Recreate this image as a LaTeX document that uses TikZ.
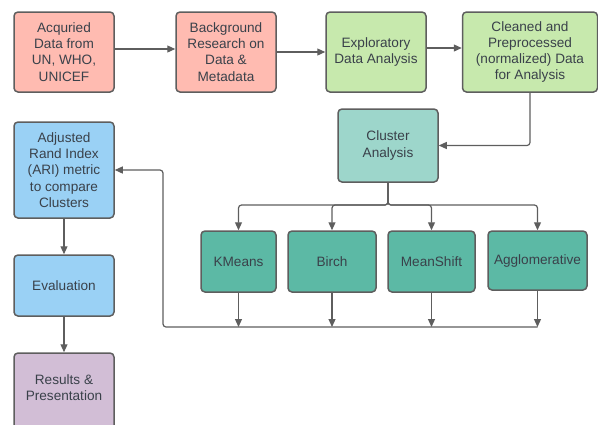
\documentclass[tikz,border=0pt]{standalone}
\usepackage{fontspec}
\setmainfont{Liberation Sans}
\usetikzlibrary{arrows.meta}
\definecolor{salmon}{HTML}{FFBBB1}
\definecolor{lgreen}{HTML}{C7E9AD}
\definecolor{lteal}{HTML}{9DD6CB}
\definecolor{dteal}{HTML}{5CB9A5}
\definecolor{lblue}{HTML}{9AD1F5}
\definecolor{lpurple}{HTML}{D2BED6}
\definecolor{edge}{HTML}{5E5E5E}
\definecolor{txt}{HTML}{3A414A}
\tikzset{
  box/.style={draw=edge, line width=1.5pt, rounded corners=4pt, align=center,
    text=txt, font=\fontsize{13.6}{16.2}\selectfont, inner sep=0pt},
  arr/.style={draw=edge, line width=1.2pt, -{Triangle[length=8pt,width=7pt]}},
}
\begin{document}
\begin{tikzpicture}[x=1pt,y=-1pt]
\useasboundingbox (0,0) rectangle (598,424);
\node[box, fill=salmon, minimum width=100pt, minimum height=80pt] (a1) at (64,52) {Acquried\\Data from\\UN, WHO,\\UNICEF};
\node[box, fill=salmon, minimum width=100pt, minimum height=80pt] (a2) at (226,52) {Background\\Research on\\Data \&\\Metadata};
\node[box, fill=lgreen, minimum width=100pt, minimum height=80pt] (a3) at (376,52) {Exploratory\\Data Analysis};
\node[box, fill=lgreen, minimum width=135pt, minimum height=80pt] (a4) at (530,52) {Cleaned and\\Preprocessed\\(normalized) Data\\for Analysis};
\node[box, fill=lteal, minimum width=100pt, minimum height=73pt] (ca) at (388,145.5) {Cluster\\Analysis};
\node[box, fill=dteal, minimum width=75pt, minimum height=61pt] (km) at (238.5,261.5) {KMeans};
\node[box, fill=dteal, minimum width=88pt, minimum height=61pt] (bi) at (332,261.5) {Birch};
\node[box, fill=dteal, minimum width=87pt, minimum height=61pt] (ms) at (431.5,261.5) {MeanShift};
\node[box, fill=dteal, minimum width=99pt, minimum height=59pt] (ag) at (537.5,260.5) {Agglomerative};
\node[box, fill=lblue, minimum width=100pt, minimum height=96pt] (ari) at (64,170) {Adjusted\\Rand Index\\(ARI) metric\\to compare\\Clusters};
\node[box, fill=lblue, minimum width=100pt, minimum height=61pt] (ev) at (64,285.5) {Evaluation};
\node[box, fill=lpurple, minimum width=100pt, minimum height=80pt] (res) at (64,393) {\raisebox{4pt}[\height][\depth]{\begin{tabular}{@{}c@{}}Results \&\\Presentation\end{tabular}}};
\coordinate (br) at (388,205);
\coordinate (bl) at (163,327);
\draw[arr] ([yshift=3pt]a1.east) -- ([yshift=3pt]a2.west);
\draw[arr] (a2.east) -- (a3.west);
\draw[arr] ([yshift=4pt]a3.east) -- ([yshift=4pt]a4.west);
\draw[arr, rounded corners=3pt] (a4.south) |- (ca.east);
\draw[arr, rounded corners=3pt] (ca.south) -- (br) -| (km.north);
\draw[arr, rounded corners=3pt] (ca.south) -- (br) -| (bi.north);
\draw[arr, rounded corners=3pt] (ca.south) -- (br) -| (ms.north);
\draw[arr, rounded corners=3pt] (ca.south) -- (br) -| (ag.north);
\draw[arr] (km.south) -- (km.south |- bl);
\draw[arr] (bi.south) -- (bi.south |- bl);
\draw[arr] (ms.south) -- (ms.south |- bl);
\draw[arr] (ag.south) -- (ag.south |- bl);
\draw[arr, rounded corners=3pt] (ag.south |- bl) -- (bl) |- (ari.east);
\draw[arr] (ari.south) -- (ev.north);
\draw[arr] (ev.south) -- (res.north);
\end{tikzpicture}
\end{document}
